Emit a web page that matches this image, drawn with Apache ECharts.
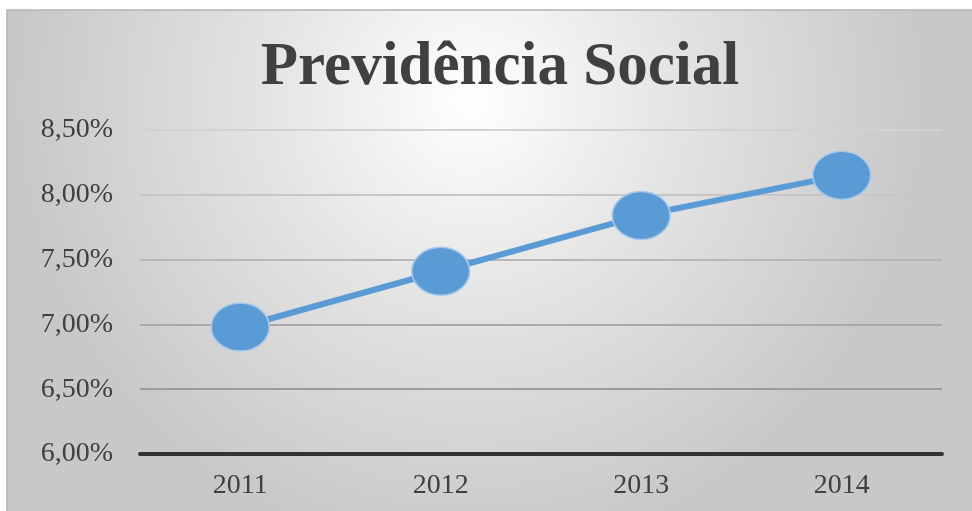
<!DOCTYPE html>
<html>
<head>
<meta charset="utf-8">
<title>Previdência Social</title>
<script src="https://cdn.jsdelivr.net/npm/echarts@6/dist/echarts.min.js"></script>
<style>
  html, body { margin: 0; padding: 0; background: #ffffff; }
  #chart { width: 972px; height: 511px; }
</style>
</head>
<body>
<div id="chart"></div>
<script>
// Share of spending, per year
const years = ['2011', '2012', '2013', '2014'];
const shares = [6.98, 7.41, 7.84, 8.15];
const axisMin = 6.0;
const axisMax = 8.5;
const axisStep = 0.5;

// gridlines, bottom to top (6,50% .. 8,50%)
const gridColors = ['#9c9c9c', '#a9a9a9', '#b7b7b7', '#c6c6c6', '#d2d2d2'];

const chart = echarts.init(document.getElementById('chart'), null, { renderer: 'canvas' });

const fmt = v => v.toFixed(2).replace('.', ',') + '%';

chart.setOption({
  backgroundColor: '#ffffff',
  animation: false,
  graphic: [
    {
      type: 'rect',
      z: -10,
      shape: { x: 7, y: 10, width: 966, height: 502 },
      style: {
        fill: new echarts.graphic.RadialGradient(0.48, 0.18, 0.9, [
          { offset: 0, color: '#ffffff' },
          { offset: 0.45, color: '#e4e4e4' },
          { offset: 1, color: '#c8c8c8' }
        ]),
        stroke: '#b4b4b4',
        lineWidth: 1.5
      }
    }
  ],
  title: {
    text: 'Previdência Social',
    left: 495,
    textAlign: 'center',
    top: 33,
    textStyle: {
      fontFamily: '"Liberation Serif", "Times New Roman", serif',
      fontWeight: 'bold',
      fontSize: 61,
      color: '#404040'
    }
  },
  grid: { left: 140, right: 30, top: 130, bottom: 57, containLabel: false },
  xAxis: {
    type: 'category',
    data: years,
    boundaryGap: true,
    axisLine: { show: true, lineStyle: { color: '#333333', width: 4 } },
    axisTick: { show: false },
    axisLabel: {
      margin: 18,
      fontFamily: '"Liberation Serif", "Times New Roman", serif',
      fontSize: 28,
      color: '#404040'
    },
    splitLine: { show: false }
  },
  yAxis: {
    type: 'value',
    min: axisMin,
    max: axisMax,
    interval: axisStep,
    axisLine: { show: false },
    axisTick: { show: false },
    axisLabel: {
      margin: 27,
      fontFamily: '"Liberation Serif", "Times New Roman", serif',
      fontSize: 28,
      color: '#404040',
      formatter: fmt
    },
    splitLine: {
      show: true,
      showMinLine: false,
      lineStyle: { color: gridColors, width: 2 }
    }
  },
  series: [
    {
      type: 'line',
      data: shares,
      symbol: 'circle',
      symbolSize: [58, 48],
      lineStyle: { color: '#5b9bd5', width: 6 },
      itemStyle: { color: '#5b9bd5', borderColor: '#a8c9ec', borderWidth: 1.5 },
      z: 5
    }
  ]
});
</script>
</body>
</html>
